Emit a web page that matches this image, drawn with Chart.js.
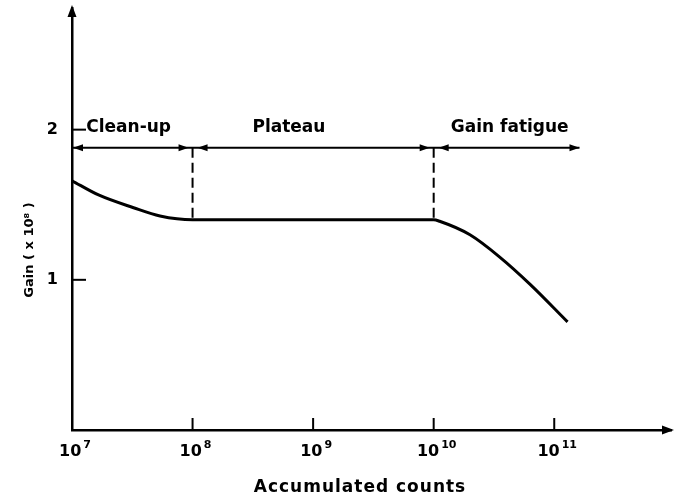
<!DOCTYPE html>
<html>
<head>
<meta charset="utf-8">
<script src="https://cdn.jsdelivr.net/npm/chart.js@4.4.1/dist/chart.umd.min.js"></script>
<style>
  html, body { margin: 0; padding: 0; background: #fff; }
  canvas { display: block; }
</style>
</head>
<body>
<canvas id="gainChart" width="677" height="498"></canvas>
<script>
// ================= DATA =================
const gainCounts = [1e7, 1.66e7, 3.24e7, 5.37e7, 1e8, 1e10, 1.12e10, 2.0e10, 3.55e10, 6.31e10, 1.29e11];
const gainValues = [1.66, 1.565, 1.48, 1.425, 1.40, 1.40, 1.39, 1.30, 1.15, 0.97, 0.72];

const regionNames = ['Clean-up', 'Plateau', 'Gain fatigue'];
const regionEdges = [1e7, 1e8, 1e10, 1.62e11];   // arrow boundaries
const regionLabelAt = [2.95e7, 6.3e8, 4.27e10];  // where each name sits
const arrowLevel = 1.88;
const plateauLevel = 1.40;

const xTickValues = [1e7, 1e8, 1e9, 1e10, 1e11];
const xTickExponents = ['7', '8', '9', '10', '11'];
const yTickValues = [1, 2];
const yTickLabels = ['1', '2'];

const xTitle = 'Accumulated counts';
const yTitle = 'Gain ( x 10⁸ )';

const FONT = '"DejaVu Sans", sans-serif';

// ================= PLUGIN: arrows, ticks, text =================
const decorations = {
    id: 'decorations',
    afterDraw(chart) {
        const { ctx, chartArea, scales: { x, y } } = chart;
        ctx.save();
        ctx.fillStyle = '#000';
        ctx.strokeStyle = '#000';

        // filled arrowhead, tip at (tx, ty)
        const head = (tx, ty, dir, len, half) => {
            ctx.beginPath();
            ctx.moveTo(tx, ty);
            if (dir === 'up') { ctx.lineTo(tx - half, ty + len); ctx.lineTo(tx + half, ty + len); }
            if (dir === 'right') { ctx.lineTo(tx - len, ty - half); ctx.lineTo(tx - len, ty + half); }
            if (dir === 'left') { ctx.lineTo(tx + len, ty - half); ctx.lineTo(tx + len, ty + half); }
            ctx.closePath();
            ctx.fill();
        };
        head(chartArea.left, chartArea.top - 3, 'up', 12, 4.5);
        head(chartArea.right + 3, chartArea.bottom, 'right', 12, 4.5);

        // inward tick marks
        ctx.lineWidth = 2;
        xTickValues.slice(1).forEach(v => {
            const px = x.getPixelForValue(v);
            ctx.beginPath();
            ctx.moveTo(px, chartArea.bottom);
            ctx.lineTo(px, chartArea.bottom - 12);
            ctx.stroke();
        });
        yTickValues.forEach(v => {
            const py = y.getPixelForValue(v);
            ctx.beginPath();
            ctx.moveTo(chartArea.left, py);
            ctx.lineTo(chartArea.left + 14, py);
            ctx.stroke();
        });

        // x tick labels: 10 with raised exponent
        ctx.textBaseline = 'middle';
        ctx.textAlign = 'left';
        xTickValues.forEach((v, i) => {
            const px = x.getPixelForValue(v);
            ctx.font = 'bold 16px ' + FONT;
            const baseW = ctx.measureText('10').width;
            ctx.font = 'bold 11px ' + FONT;
            const expW = ctx.measureText(xTickExponents[i]).width;
            const left = px + 3 - (baseW + 2 + expW) / 2;
            ctx.font = 'bold 16px ' + FONT;
            ctx.fillText('10', left, chartArea.bottom + 22);
            ctx.font = 'bold 11px ' + FONT;
            ctx.fillText(xTickExponents[i], left + baseW + 2, chartArea.bottom + 15);
        });

        // region arrowheads
        const ay = y.getPixelForValue(arrowLevel);
        regionEdges.forEach((v, i) => {
            const px = x.getPixelForValue(v);
            if (i === 0) {
                head(px + 1, ay, 'left', 10, 3.5);
            } else if (i === regionEdges.length - 1) {
                head(px, ay, 'right', 10, 3.5);
            } else {
                head(px - 4, ay, 'right', 10, 3.5);
                head(px + 5, ay, 'left', 10, 3.5);
            }
        });

        // region names
        ctx.font = 'bold 17px ' + FONT;
        ctx.textAlign = 'center';
        regionNames.forEach((name, i) => {
            ctx.fillText(name, x.getPixelForValue(regionLabelAt[i]), ay - 20);
        });

        // axis titles
        ctx.letterSpacing = '1px';
        ctx.fillText(xTitle, 360, 488);
        ctx.font = 'bold 13px ' + FONT;
        ctx.letterSpacing = '0px';
        ctx.translate(30, 250);
        ctx.rotate(-Math.PI / 2);
        ctx.fillText(yTitle, 0, 0);
        ctx.restore();
    }
};

// ================= CHART SETUP =================
const ctx = document.getElementById('gainChart').getContext('2d');

new Chart(ctx, {
    type: 'line',
    data: {
        datasets: [
            {
                // gain curve
                data: gainCounts.map((c, i) => ({ x: c, y: gainValues[i] })),
                borderColor: '#000',
                borderWidth: 3,
                cubicInterpolationMode: 'monotone',
                pointRadius: 0
            },
            {
                // region arrow line
                data: [{ x: regionEdges[0], y: arrowLevel }, { x: regionEdges[3], y: arrowLevel }],
                borderColor: '#000',
                borderWidth: 2,
                pointRadius: 0
            },
            {
                // dashed boundary at end of clean-up
                data: [{ x: regionEdges[1], y: arrowLevel }, { x: regionEdges[1], y: plateauLevel }],
                borderColor: '#000',
                borderWidth: 2,
                borderDash: [10, 5],
                pointRadius: 0
            },
            {
                // dashed boundary at start of gain fatigue
                data: [{ x: regionEdges[2], y: arrowLevel }, { x: regionEdges[2], y: plateauLevel }],
                borderColor: '#000',
                borderWidth: 2,
                borderDash: [10, 5],
                pointRadius: 0
            }
        ]
    },
    options: {
        responsive: false,
        animation: false,
        layout: { padding: { top: 8, right: 6, left: 0, bottom: 0 } },
        plugins: { legend: { display: false }, tooltip: { enabled: false } },
        scales: {
            x: {
                type: 'logarithmic',
                min: 1e7,
                max: 9.3e11,
                afterBuildTicks: (s) => { s.ticks = xTickValues.map(v => ({ value: v })); },
                afterFit: (s) => { s.height = 68; s.paddingLeft = 0; s.paddingRight = 0; },
                grid: { display: false, drawTicks: false },
                border: { color: '#000', width: 2.5 },
                ticks: { display: false }
            },
            y: {
                min: 0,
                max: 2.81,
                afterBuildTicks: (s) => { s.ticks = yTickValues.map(v => ({ value: v })); },
                afterFit: (s) => { s.width = 72; s.paddingTop = 0; s.paddingBottom = 0; },
                grid: { display: false, drawTicks: false },
                border: { color: '#000', width: 2.5 },
                ticks: {
                    color: '#000',
                    padding: 14,
                    font: { family: FONT, size: 16, weight: 'bold' },
                    callback: (v) => yTickLabels[yTickValues.indexOf(v)]
                }
            }
        }
    },
    plugins: [decorations]
});
</script>
</body>
</html>
